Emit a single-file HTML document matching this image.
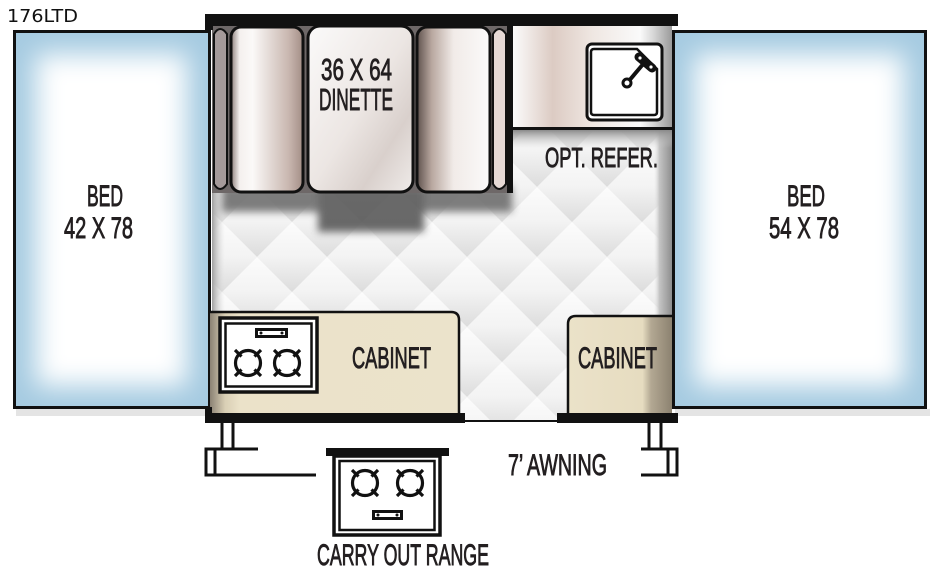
<!DOCTYPE html>
<html>
<head>
<meta charset="utf-8">
<style>
html,body{margin:0;padding:0;background:#fff;}
svg{display:block;}
text{font-family:"Liberation Sans",sans-serif;fill:#231f20;stroke:#231f20;stroke-width:0.9;}
.t{font-family:"DejaVu Sans","Liberation Sans",sans-serif;stroke:none;fill:#111;}
</style>
</head>
<body>
<svg width="940" height="574" viewBox="0 0 940 574" xmlns="http://www.w3.org/2000/svg">
<defs>
  <filter id="bl" x="-50%" y="-50%" width="200%" height="200%"><feGaussianBlur stdDeviation="13"/></filter>
  <filter id="bl4" x="-50%" y="-50%" width="200%" height="200%"><feGaussianBlur stdDeviation="4"/></filter>
  <clipPath id="cbL"><rect x="13" y="30" width="197" height="379"/></clipPath>
  <clipPath id="cbR"><rect x="672" y="30" width="255" height="379"/></clipPath>
  <linearGradient id="dg" x1="0" y1="0" x2="0" y2="1">
    <stop offset="0" stop-color="#fcfcfc"/><stop offset="0.5" stop-color="#f3f3f3"/><stop offset="1" stop-color="#dcdcdc"/>
  </linearGradient>
  <linearGradient id="dgTop" x1="0" y1="0" x2="0" y2="1">
    <stop offset="0" stop-color="#f3f3f3"/><stop offset="1" stop-color="#dcdcdc"/>
  </linearGradient>
  <linearGradient id="dgBot" x1="0" y1="0" x2="0" y2="1">
    <stop offset="0" stop-color="#fcfcfc"/><stop offset="1" stop-color="#f3f3f3"/>
  </linearGradient>
  <pattern id="dia" x="12" y="117" width="70" height="70" patternUnits="userSpaceOnUse">
    <rect width="70" height="70" fill="#f0f0f0"/>
    <polygon points="35,0 70,35 35,70 0,35" fill="url(#dg)"/>
    <polygon points="0,0 35,0 0,35" fill="url(#dgTop)"/>
    <polygon points="35,0 70,0 70,35" fill="url(#dgTop)"/>
    <polygon points="0,35 35,70 0,70" fill="url(#dgBot)"/>
    <polygon points="70,35 70,70 35,70" fill="url(#dgBot)"/>
  </pattern>
  <linearGradient id="seatL" x1="0" y1="0" x2="1" y2="0">
    <stop offset="0" stop-color="#8d807c"/><stop offset="0.12" stop-color="#f4f0ee"/><stop offset="0.3" stop-color="#fbf9f8"/><stop offset="0.8" stop-color="#c9b7b0"/><stop offset="1" stop-color="#a38e86"/>
  </linearGradient>
  <linearGradient id="seatR" x1="0" y1="0" x2="1" y2="0">
    <stop offset="0" stop-color="#5e514d"/><stop offset="0.2" stop-color="#b8a79f"/><stop offset="0.5" stop-color="#f1ebe8"/><stop offset="1" stop-color="#fbfafa"/>
  </linearGradient>
  <linearGradient id="tbl" x1="0" y1="0" x2="1" y2="1">
    <stop offset="0" stop-color="#fbfafa"/><stop offset="0.5" stop-color="#ece6e3"/><stop offset="0.75" stop-color="#d9d0cc"/><stop offset="1" stop-color="#efebe9"/>
  </linearGradient>
  <linearGradient id="ctr" x1="0" y1="0" x2="1" y2="0">
    <stop offset="0" stop-color="#fbfbfb"/><stop offset="0.25" stop-color="#dccbc3"/><stop offset="0.5" stop-color="#efe7e2"/><stop offset="0.8" stop-color="#fafafa"/><stop offset="0.88" stop-color="#d8d8d8"/><stop offset="1" stop-color="#9a9a9a"/>
  </linearGradient>
  <linearGradient id="rstrip" x1="0" y1="0" x2="1" y2="0">
    <stop offset="0" stop-color="#e4e4e4" stop-opacity="0"/><stop offset="0.3" stop-color="#c4c4c4"/><stop offset="1" stop-color="#8e8e8e"/>
  </linearGradient>
  <linearGradient id="lstrip" x1="0" y1="0" x2="1" y2="0">
    <stop offset="0" stop-color="#9f9f9f"/><stop offset="1" stop-color="#e0e0e0" stop-opacity="0"/>
  </linearGradient>
  <linearGradient id="rshad" x1="0" y1="0" x2="0" y2="1">
    <stop offset="0" stop-color="#8a8a8a"/><stop offset="1" stop-color="#cfcfcf" stop-opacity="0"/>
  </linearGradient>
  <linearGradient id="cabL" x1="0" y1="0" x2="1" y2="0">
    <stop offset="0" stop-color="#8b8274"/><stop offset="0.06" stop-color="#d9cfb5"/><stop offset="0.12" stop-color="#ebe2c9"/><stop offset="1" stop-color="#ebe3cb"/>
  </linearGradient>
  <linearGradient id="cabR" x1="0" y1="0" x2="1" y2="0">
    <stop offset="0" stop-color="#ebe2c9"/><stop offset="0.72" stop-color="#e6dcc0"/><stop offset="0.8" stop-color="#b3a893"/><stop offset="1" stop-color="#8c8270"/>
  </linearGradient>
  <g id="burner" fill="none" stroke="#111" stroke-width="3.2" stroke-linecap="butt">
    <circle cx="0" cy="0" r="12.5"/>
    <line x1="6.5" y1="6.5" x2="13" y2="13"/>
    <line x1="-6.5" y1="6.5" x2="-13" y2="13"/>
    <line x1="6.5" y1="-6.5" x2="13" y2="-13"/>
    <line x1="-6.5" y1="-6.5" x2="-13" y2="-13"/>
  </g>
</defs>

<!-- title -->
<text class="t" x="7" y="22" font-size="17.5" textLength="71" lengthAdjust="spacingAndGlyphs">176LTD</text>

<!-- bed shadows -->
<rect x="16" y="409" width="196" height="7" fill="#e4e4e4"/>
<rect x="675" y="409" width="255" height="7" fill="#e4e4e4"/>

<!-- left bed -->
<rect x="13" y="30" width="197" height="379" fill="#a6cbe1"/>
<g clip-path="url(#cbL)"><rect x="36" y="54" width="151" height="332" fill="#fff" filter="url(#bl)"/></g>
<rect x="14.5" y="31.5" width="195" height="376" fill="none" stroke="#111" stroke-width="3"/>

<!-- right bed -->
<rect x="672" y="30" width="255" height="379" fill="#a6cbe1"/>
<g clip-path="url(#cbR)"><rect x="695" y="54" width="209" height="332" fill="#fff" filter="url(#bl)"/></g>
<rect x="673.5" y="31.5" width="252" height="376" fill="none" stroke="#111" stroke-width="3"/>

<!-- floor -->
<rect x="212" y="130" width="460" height="291" fill="url(#dia)"/>
<rect x="212" y="193" width="13" height="120" fill="url(#lstrip)"/>
<rect x="654" y="130" width="18" height="186" fill="url(#rstrip)"/>
<rect x="513" y="130" width="159" height="18" fill="url(#rshad)"/>
<!-- dinette shadows -->
<g filter="url(#bl4)" opacity="0.9">
  <rect x="222" y="186" width="290" height="26" fill="#707070"/>
  <rect x="318" y="186" width="106" height="46" fill="#5a5a5a"/>
</g>

<!-- dinette -->
<rect x="212" y="25" width="300" height="168" fill="#6e6868"/>
<path d="M214,34 Q220,24 227,34 L227,184 Q220,194 214,184 Z" fill="#a59a9a" stroke="#111" stroke-width="2"/>
<rect x="231" y="27" width="72" height="165" rx="10" fill="url(#seatL)" stroke="#111" stroke-width="3"/>
<rect x="308" y="26" width="105" height="166" rx="12" fill="url(#tbl)" stroke="#111" stroke-width="3"/>
<rect x="417" y="27" width="73" height="165" rx="10" fill="url(#seatR)" stroke="#111" stroke-width="3"/>
<path d="M493,34 Q499,24 506,34 L506,184 Q499,194 493,184 Z" fill="#e6d9d5" stroke="#111" stroke-width="2"/>
<rect x="507" y="25" width="6" height="168" fill="#111"/>

<!-- counter -->
<rect x="513" y="25" width="159" height="103" fill="url(#ctr)"/>
<rect x="511" y="127" width="161" height="3" fill="#111"/>
<!-- sink -->
<rect x="587" y="44" width="75" height="76" rx="5" fill="#fff" stroke="#111" stroke-width="3"/>
<path d="M594,49 L637,49 L657,69 L657,112 Q657,115 654,115 L594,115 Q591,115 591,112 L591,52 Q591,49 594,49 Z" fill="#fff" stroke="#111" stroke-width="2.5"/>
<line x1="628" y1="82" x2="644" y2="63" stroke="#111" stroke-width="4"/>
<circle cx="627" cy="83" r="4" fill="#fff" stroke="#111" stroke-width="3"/>
<line x1="639" y1="57" x2="652" y2="68" stroke="#111" stroke-width="9" stroke-linecap="round"/>
<circle cx="640" cy="58" r="1.6" fill="#fff"/>
<circle cx="651" cy="67" r="1.6" fill="#fff"/>

<!-- top wall -->
<rect x="205" y="14" width="473" height="12" fill="#111"/>
<rect x="205" y="14" width="8" height="16" fill="#111"/>

<!-- left cabinet -->
<path d="M210,311 L451,311 Q460,311 460,320 L460,413 L210,413 Z" fill="url(#cabL)"/>
<path d="M210,312 L451,312 Q459,312 459,320 L459,413" fill="none" stroke="#111" stroke-width="2.5"/>
<!-- stove -->
<rect x="220" y="318" width="97" height="74" fill="#fff" stroke="#111" stroke-width="3.5"/>
<rect x="225.5" y="323.5" width="86" height="63" fill="none" stroke="#111" stroke-width="2.5"/>
<rect x="255" y="328" width="33" height="10" fill="#111"/>
<rect x="258" y="331" width="27" height="4" fill="#fff"/>
<circle cx="261" cy="333" r="1.5" fill="#111"/><circle cx="282" cy="333" r="1.5" fill="#111"/>
<use href="#burner" x="248" y="363"/>
<use href="#burner" x="287" y="363"/>

<!-- right cabinet -->
<path d="M576,315 L672,315 L672,413 L567,413 L567,324 Q567,315 576,315 Z" fill="url(#cabR)"/>
<path d="M568,413 L568,324 Q568,316 576,316 L672,316" fill="none" stroke="#111" stroke-width="2.5"/>

<!-- bottom walls -->
<rect x="205" y="413" width="260" height="10" fill="#111"/>
<rect x="557" y="413" width="121" height="10" fill="#111"/>
<rect x="463" y="420" width="96" height="2" fill="#111"/>
<rect x="205" y="407" width="7" height="8" fill="#111"/>

<!-- legs -->
<g stroke="#111" stroke-width="3" fill="none">
  <line x1="222" y1="423" x2="222" y2="449"/>
  <line x1="233" y1="423" x2="233" y2="449"/>
  <line x1="205" y1="449" x2="258" y2="449"/>
  <rect x="206" y="449" width="9" height="26"/>
  <line x1="205" y1="475" x2="316" y2="475"/>
  <line x1="649" y1="423" x2="649" y2="449"/>
  <line x1="661" y1="423" x2="661" y2="449"/>
  <line x1="641" y1="449" x2="677" y2="449"/>
  <rect x="668" y="449" width="9" height="26"/>
  <line x1="641" y1="475" x2="677" y2="475"/>
</g>

<!-- carry out range -->
<rect x="326" y="448" width="123" height="8" fill="#111"/>
<rect x="334" y="456" width="106" height="79" fill="#fff" stroke="#111" stroke-width="3.5"/>
<rect x="339.5" y="461" width="95" height="69" fill="none" stroke="#111" stroke-width="2.5"/>
<use href="#burner" x="365" y="483"/>
<use href="#burner" x="410" y="483"/>
<rect x="372" y="510" width="31" height="10" fill="#111"/>
<rect x="375" y="513" width="25" height="4" fill="#fff"/>
<circle cx="378" cy="515" r="1.5" fill="#111"/><circle cx="397" cy="515" r="1.5" fill="#111"/>

<!-- labels -->
<text x="321" y="80" font-size="31" textLength="71" lengthAdjust="spacingAndGlyphs">36 X 64</text>
<text x="319" y="110" font-size="31" textLength="74" lengthAdjust="spacingAndGlyphs">DINETTE</text>
<text x="545" y="167" font-size="28" textLength="113" lengthAdjust="spacingAndGlyphs">OPT. REFER.</text>
<text x="87" y="206" font-size="30" textLength="36" lengthAdjust="spacingAndGlyphs">BED</text>
<text x="64" y="238" font-size="30" textLength="69" lengthAdjust="spacingAndGlyphs">42 X 78</text>
<text x="787" y="206" font-size="30" textLength="38" lengthAdjust="spacingAndGlyphs">BED</text>
<text x="769" y="238" font-size="30" textLength="70" lengthAdjust="spacingAndGlyphs">54 X 78</text>
<text x="352" y="368" font-size="29.5" textLength="79" lengthAdjust="spacingAndGlyphs">CABINET</text>
<text x="578" y="368" font-size="29.5" textLength="79" lengthAdjust="spacingAndGlyphs">CABINET</text>
<text x="508" y="475" font-size="29.5" textLength="99" lengthAdjust="spacingAndGlyphs">7’ AWNING</text>
<text x="317" y="565" font-size="29.5" textLength="172" lengthAdjust="spacingAndGlyphs">CARRY OUT RANGE</text>
</svg>
</body>
</html>
